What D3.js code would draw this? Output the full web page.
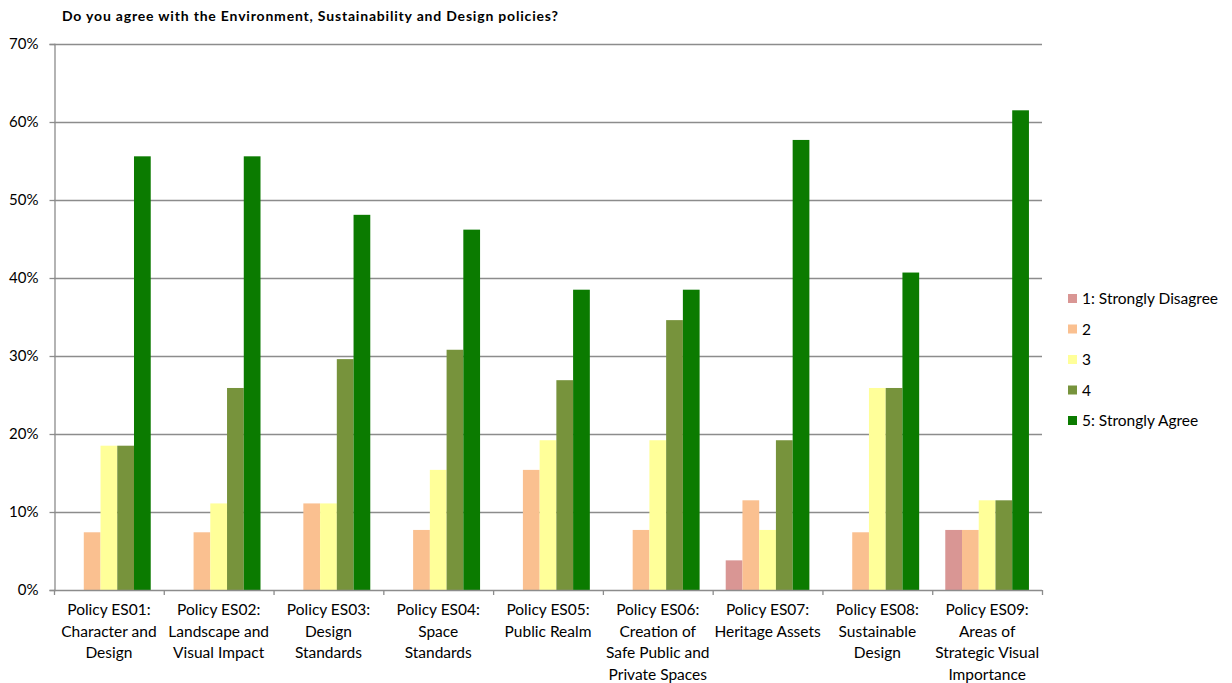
<!DOCTYPE html>
<html><head><meta charset="utf-8">
<script src="https://cdn.jsdelivr.net/npm/d3@7"></script>
<style>body{margin:0;background:#fff}svg{display:block}text{font-family:Lato,"Open Sans",sans-serif}</style>
</head><body>
<svg id="c" width="1232" height="683"></svg>
<script>
const title = "Do you agree with the Environment, Sustainability and Design policies?";
const categories = [
  ["Policy ES01:","Character and","Design"],
  ["Policy ES02:","Landscape and","Visual Impact"],
  ["Policy ES03:","Design","Standards"],
  ["Policy ES04:","Space","Standards"],
  ["Policy ES05:","Public Realm"],
  ["Policy ES06:","Creation of","Safe Public and","Private Spaces"],
  ["Policy ES07:","Heritage Assets"],
  ["Policy ES08:","Sustainable","Design"],
  ["Policy ES09:","Areas of","Strategic Visual","Importance"]
];
const seriesNames = ["1: Strongly Disagree","2","3","4","5: Strongly Agree"];
const s1 = [0,0,0,0,0,0,3.8,0,7.7];
const s2 = [7.4,7.4,11.1,7.7,15.4,7.7,11.5,7.4,7.7];
const s3 = [18.5,11.1,11.1,15.4,19.2,19.2,7.7,25.9,11.5];
const s4 = [18.5,25.9,29.6,30.8,26.9,34.6,19.2,25.9,11.5];
const s5 = [55.6,55.6,48.1,46.2,38.5,38.5,57.7,40.7,61.5];
const series = [s1,s2,s3,s4,s5];
const colors = ["#D99694","#FAC090","#FFFF99","#77933C","#0B7B00"];
const yTicks = [0,10,20,30,40,50,60,70];

const svg = d3.select("#c");
const L=54,R=1042,T=44,B=590;
const x0 = d3.scaleBand().domain(d3.range(categories.length)).range([L,R]).padding(0);
const x1 = d3.scaleBand().domain(d3.range(series.length)).range([0,x0.bandwidth()]).paddingOuter(0.78).paddingInner(0);
const y = d3.scaleLinear().domain([0,70]).range([B,T]);

svg.append("text").attr("x",62).attr("y",21).attr("font-size",14).attr("font-weight","bold").attr("fill","#000")
  .attr("textLength",496).attr("lengthAdjust","spacing").text(title);

// gridlines
svg.append("g").selectAll("line").data(yTicks.filter(d=>d>0)).join("line")
  .attr("x1",L).attr("x2",R).attr("y1",d=>y(d)+0.5).attr("y2",d=>y(d)+0.5)
  .attr("stroke","#8c8c8c").attr("stroke-width",1.3);

// y axis
const ya = svg.append("g").attr("transform",`translate(${L+0.5},0)`)
  .call(d3.axisLeft(y).tickValues(yTicks).tickFormat(d=>d+"%").tickSize(5).tickPadding(11));
ya.select(".domain").attr("stroke","#8c8c8c").attr("stroke-width",1.3);
ya.selectAll(".tick line").attr("stroke","#8c8c8c").attr("stroke-width",1.3);
ya.selectAll("text").attr("font-size",15).attr("fill","#000").attr("font-family","Lato,'Open Sans',sans-serif");

// bars
const g = svg.append("g");
series.forEach((s,si)=>{
  g.selectAll(null).data(s).join("rect")
    .attr("x",(d,i)=>x0(i)+x1(si))
    .attr("width",x1.bandwidth())
    .attr("y",d=>y(d))
    .attr("height",d=>B-y(d))
    .attr("fill",colors[si]);
});

// x axis
svg.append("line").attr("x1",L).attr("x2",R).attr("y1",B+0.5).attr("y2",B+0.5).attr("stroke","#8c8c8c").attr("stroke-width",1.3);
const bounds = d3.range(categories.length+1).map(i=> i<categories.length ? x0(i) : R);
svg.append("g").selectAll("line").data(bounds).join("line")
  .attr("x1",d=>d+0.5).attr("x2",d=>d+0.5).attr("y1",B).attr("y2",B+5)
  .attr("stroke","#8c8c8c").attr("stroke-width",1.3);
const lab = svg.append("g").selectAll("text").data(categories).join("text")
  .attr("text-anchor","middle").attr("font-size",15.5).attr("fill","#000")
  .attr("transform",(d,i)=>`translate(${x0(i)+x0.bandwidth()/2},615)`);
lab.selectAll("tspan").data(d=>d).join("tspan").attr("x",0).attr("y",(d,i)=>i*21.5).text(d=>d);

// legend
const lg = svg.append("g").selectAll("g").data(seriesNames).join("g")
  .attr("transform",(d,i)=>`translate(1068,${299+i*30.5})`);
lg.append("rect").attr("x",0).attr("y",-5).attr("width",9).attr("height",9).attr("fill",(d,i)=>colors[i]);
lg.append("text").attr("x",14).attr("y",5).attr("font-size",15.5).attr("fill","#000").text(d=>d);
</script>
</body></html>
